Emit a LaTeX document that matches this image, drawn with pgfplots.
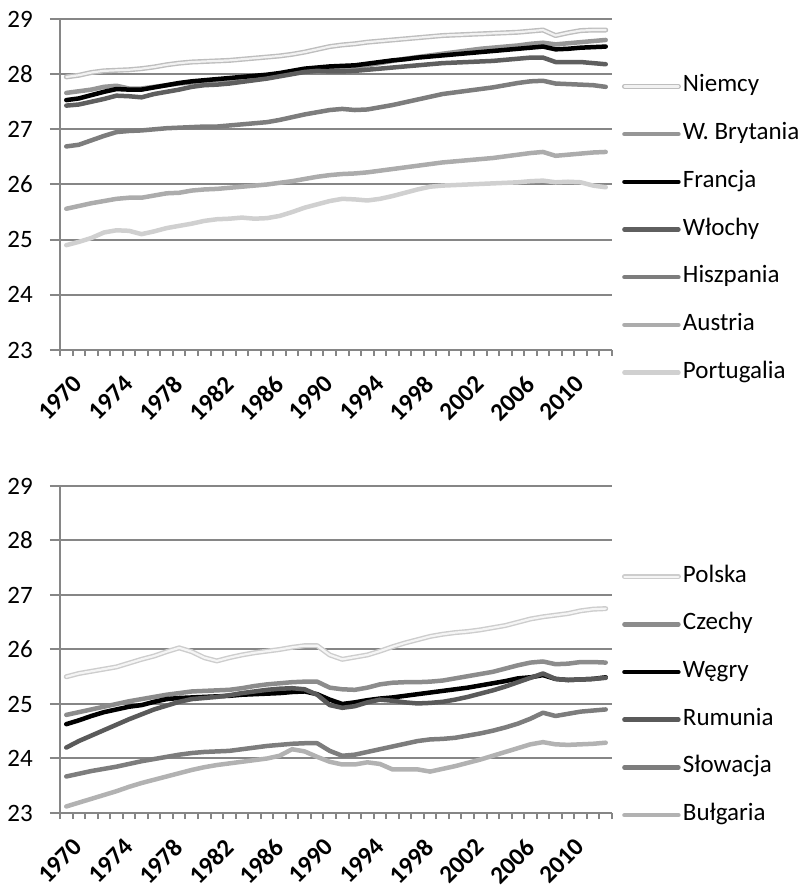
\documentclass[border=0pt]{standalone}
\usepackage{pgfplots}
\pgfplotsset{compat=1.18}
\usepackage{pgfplotstable}
\usepackage{fontspec}
\setmainfont{Carlito}
\definecolor{gridc}{RGB}{134,134,134}
\definecolor{cNiO}{RGB}{190,190,190}
\definecolor{cNiI}{RGB}{242,242,242}
\definecolor{cWB}{RGB}{150,150,150}
\definecolor{cFr}{RGB}{0,0,0}
\definecolor{cWl}{RGB}{95,95,95}
\definecolor{cHi}{RGB}{125,125,125}
\definecolor{cAu}{RGB}{172,172,172}
\definecolor{cPt}{RGB}{208,208,208}
\definecolor{cPlO}{RGB}{205,205,205}
\definecolor{cPlI}{RGB}{245,245,245}
\definecolor{cCz}{RGB}{140,140,140}
\definecolor{cRo}{RGB}{90,90,90}
\definecolor{cSk}{RGB}{125,125,125}
\definecolor{cBg}{RGB}{178,178,178}
\newcommand{\fs}{\fontsize{25bp}{30bp}\selectfont}

\pgfplotstableread{
x N WB F W H A P
0 27.95 27.66 27.53 27.43 26.69 25.56 24.90
1 27.98 27.69 27.56 27.45 26.72 25.61 24.96
2 28.03 27.72 27.62 27.50 26.80 25.66 25.03
3 28.06 27.77 27.68 27.55 26.88 25.70 25.13
4 28.07 27.79 27.73 27.61 26.95 25.74 25.17
5 28.08 27.74 27.72 27.60 26.97 25.76 25.16
6 28.10 27.74 27.72 27.58 26.98 25.76 25.10
7 28.13 27.77 27.76 27.64 27.00 25.80 25.15
8 28.17 27.80 27.80 27.68 27.02 25.84 25.21
9 28.20 27.83 27.84 27.72 27.03 25.85 25.25
10 28.22 27.85 27.87 27.77 27.04 25.89 25.29
11 28.23 27.87 27.89 27.80 27.05 25.91 25.34
12 28.24 27.89 27.91 27.81 27.05 25.92 25.37
13 28.25 27.90 27.93 27.83 27.07 25.94 25.38
14 28.27 27.92 27.95 27.86 27.09 25.96 25.40
15 28.29 27.94 27.97 27.89 27.11 25.98 25.38
16 28.31 27.96 27.99 27.92 27.13 26.00 25.39
17 28.33 27.99 28.02 27.96 27.17 26.03 25.43
18 28.36 28.03 28.06 28.00 27.22 26.06 25.50
19 28.40 28.06 28.10 28.04 27.27 26.10 25.58
20 28.45 28.08 28.12 28.06 27.31 26.14 25.64
21 28.50 28.10 28.14 28.05 27.35 26.17 25.70
22 28.53 28.12 28.15 28.05 27.37 26.19 25.74
23 28.55 28.13 28.16 28.06 27.35 26.20 25.73
24 28.58 28.16 28.19 28.08 27.36 26.22 25.71
25 28.60 28.20 28.22 28.10 27.40 26.25 25.74
26 28.62 28.24 28.25 28.12 27.44 26.28 25.79
27 28.64 28.28 28.27 28.14 27.49 26.31 25.85
28 28.66 28.31 28.30 28.16 27.54 26.34 25.91
29 28.68 28.34 28.32 28.18 27.59 26.37 25.96
30 28.70 28.37 28.34 28.20 27.64 26.40 25.98
31 28.71 28.40 28.36 28.21 27.67 26.42 25.99
32 28.72 28.43 28.38 28.22 27.70 26.44 26.00
33 28.73 28.46 28.40 28.23 27.73 26.46 26.01
34 28.74 28.48 28.42 28.24 27.76 26.48 26.02
35 28.75 28.50 28.44 28.26 27.80 26.51 26.03
36 28.76 28.52 28.46 28.28 27.84 26.54 26.04
37 28.78 28.55 28.48 28.30 27.87 26.57 26.06
38 28.80 28.57 28.50 28.30 27.88 26.59 26.07
39 28.70 28.54 28.45 28.22 27.83 26.52 26.04
40 28.75 28.56 28.46 28.22 27.82 26.54 26.05
41 28.79 28.58 28.48 28.22 27.81 26.56 26.04
42 28.80 28.60 28.49 28.20 27.80 26.58 25.98
43 28.80 28.62 28.50 28.18 27.77 26.59 25.95
}\topdata

\pgfplotstableread{
x Pl Cz Hu Ro Sk Bg
0 25.50 24.80 24.63 24.20 23.67 23.12
1 25.56 24.85 24.70 24.32 23.72 23.19
2 25.60 24.90 24.78 24.42 23.77 23.26
3 25.64 24.95 24.85 24.52 23.81 23.33
4 25.68 25.00 24.90 24.62 23.85 23.40
5 25.75 25.05 24.95 24.72 23.90 23.48
6 25.82 25.09 24.98 24.81 23.95 23.55
7 25.88 25.13 25.04 24.90 23.99 23.61
8 25.96 25.17 25.09 24.97 24.03 23.67
9 26.03 25.20 25.11 25.04 24.07 23.73
10 25.96 25.23 25.12 25.09 24.10 23.79
11 25.85 25.24 25.13 25.11 24.12 23.84
12 25.79 25.25 25.14 25.13 24.13 23.88
13 25.85 25.26 25.15 25.16 24.14 23.91
14 25.90 25.29 25.17 25.20 24.17 23.94
15 25.94 25.33 25.18 25.23 24.20 23.97
16 25.97 25.36 25.19 25.26 24.23 24.00
17 26.00 25.38 25.20 25.28 24.25 24.05
18 26.04 25.40 25.22 25.29 24.27 24.17
19 26.07 25.41 25.23 25.27 24.28 24.13
20 26.07 25.41 25.18 25.17 24.28 24.03
21 25.90 25.30 25.08 24.98 24.14 23.94
22 25.82 25.27 25.00 24.93 24.05 23.89
23 25.86 25.26 25.03 24.96 24.07 23.89
24 25.90 25.30 25.07 25.03 24.12 23.93
25 25.97 25.36 25.10 25.08 24.17 23.90
26 26.05 25.39 25.12 25.06 24.22 23.80
27 26.12 25.40 25.15 25.03 24.27 23.80
28 26.18 25.40 25.18 25.01 24.32 23.80
29 26.24 25.41 25.21 25.02 24.35 23.76
30 26.28 25.43 25.24 25.04 24.36 23.81
31 26.31 25.47 25.27 25.08 24.38 23.86
32 26.33 25.51 25.30 25.13 24.42 23.92
33 26.36 25.55 25.34 25.19 24.46 23.98
34 26.40 25.59 25.38 25.25 24.51 24.05
35 26.44 25.65 25.42 25.32 24.57 24.12
36 26.50 25.71 25.47 25.40 24.64 24.19
37 26.56 25.76 25.49 25.48 24.73 24.26
38 26.60 25.78 25.53 25.56 24.84 24.30
39 26.63 25.73 25.46 25.46 24.78 24.26
40 26.66 25.74 25.44 25.44 24.82 24.25
41 26.71 25.77 25.45 25.45 24.86 24.26
42 26.74 25.77 25.46 25.46 24.88 24.27
43 26.75 25.76 25.49 25.48 24.90 24.29
}\botdata

\pgfplotsset{
  panel/.style={
    scale only axis, width=552bp,
    xmin=-0.5, xmax=43.5, ymin=23, ymax=29,
    ytick={23,24,...,29},
    xtick={0,4,...,40},
    xticklabels={1970,1974,1978,1982,1986,1990,1994,1998,2002,2006,2010},
    minor xtick={-0.5,0.5,...,43.5},
    axis x line*=bottom, axis y line*=left,
    axis line style={gridc, line width=2bp, -},
    ymajorgrids, grid style={gridc, line width=2bp},
    tick align=outside,
    major tick length=10bp, minor tick length=6bp,
    major x tick style={draw=none},
    minor x tick style={gridc, line width=2bp},
    major y tick style={gridc, line width=2bp},
    /pgf/number format/assume math mode=true,
    y tick label style={font=\fs, inner sep=0pt, anchor=east, xshift=-17bp},
    x tick label style={font=\fs\bfseries, xshift=6bp, yshift=-14bp, rotate=45, anchor=north east, inner sep=0pt},
    legend cell align=left,
    legend image code/.code={\draw[##1] (0bp,0bp) -- (54bp,0bp);},
    legend style={draw=none, fill=none, font=\fs, anchor=north west,
      inner sep=0pt, outer sep=0pt,
      row sep=24.7bp, nodes={inner sep=0pt, text height=17bp, text depth=6bp},
      /tikz/every odd column/.style={column sep=2bp}},
    every axis plot/.append style={line width=4.5bp, line join=round, line cap=round},
  },
  dbl/.style={draw=#1, line width=1.4bp, double distance=2.2bp},
}

\begin{document}
\begin{tikzpicture}
\useasboundingbox (0bp,0bp) rectangle (806bp,885bp);
\begin{axis}[panel, at={(60bp,535bp)}, anchor=south west, height=331bp,
  legend style={at={(1.018,0.831)}}]
\addplot[dbl=cNiO, double=cNiI, line width=1.4bp] table[x=x,y=N]{\topdata};
\addlegendentry{Niemcy}
\addplot[cWB] table[x=x,y=WB]{\topdata};
\addlegendentry{W. Brytania}
\addplot[cFr] table[x=x,y=F]{\topdata};
\addlegendentry{Francja}
\addplot[cWl] table[x=x,y=W]{\topdata};
\addlegendentry{Włochy}
\addplot[cHi] table[x=x,y=H]{\topdata};
\addlegendentry{Hiszpania}
\addplot[cAu] table[x=x,y=A]{\topdata};
\addlegendentry{Austria}
\addplot[cPt] table[x=x,y=P]{\topdata};
\addlegendentry{Portugalia}
\end{axis}
\begin{axis}[panel, at={(60bp,72bp)}, anchor=south west, height=327bp,
  legend style={at={(1.018,0.758)}}]
\addplot[dbl=cPlO, double=cPlI, line width=1.4bp] table[x=x,y=Pl]{\botdata};
\addlegendentry{Polska}
\addplot[cCz] table[x=x,y=Cz]{\botdata};
\addlegendentry{Czechy}
\addplot[cFr] table[x=x,y=Hu]{\botdata};
\addlegendentry{Węgry}
\addplot[cRo] table[x=x,y=Ro]{\botdata};
\addlegendentry{Rumunia}
\addplot[cSk] table[x=x,y=Sk]{\botdata};
\addlegendentry{Słowacja}
\addplot[cBg] table[x=x,y=Bg]{\botdata};
\addlegendentry{Bułgaria}
\end{axis}
\end{tikzpicture}
\end{document}
